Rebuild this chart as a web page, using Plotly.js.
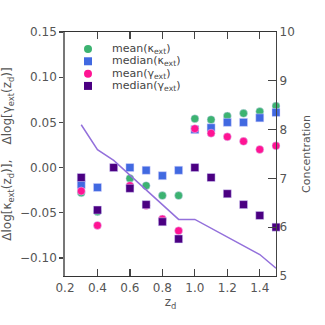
<!DOCTYPE html>
<html>
<head>
<meta charset="utf-8">
<script src="https://cdn.plot.ly/plotly-3.0.1.min.js"></script>
<style>
  html, body { margin: 0; padding: 0; background: #fff; }
  #chart { width: 325px; height: 325px; }
</style>
</head>
<body>
<div id="chart"></div>
<script>
// redshift bins of the deflector
var zd = [0.3, 0.4, 0.5, 0.6, 0.7, 0.8, 0.9, 1.0, 1.1, 1.2, 1.3, 1.4, 1.5];

// offsets (null = not visible)
var meanKappa   = [-0.028, -0.049, null, -0.012, -0.020, -0.031, -0.031, 0.054, 0.053, 0.057, 0.060, 0.062, 0.068];
var medianKappa = [-0.019, -0.022, null,  0.000, -0.003, -0.009, -0.003, 0.042, 0.044, 0.050, 0.050, 0.055, 0.061];
var meanGamma   = [-0.026, -0.064, null, -0.020, -0.042, -0.057, -0.070, 0.043, 0.038, 0.034, 0.029, 0.020, 0.024];
var medianGamma = [-0.011, -0.047, 0.000, -0.023, -0.041, -0.060, -0.079, 0.000, -0.011, -0.029, -0.041, -0.053, -0.066];

// concentration (right axis)
var concentration = [8.10, 7.59, 7.37, 7.07, 6.75, 6.45, 6.16, 6.16, 5.98, 5.80, 5.62, 5.44, 5.16];

var legendLabels = ['mean(κ<sub>ext</sub>)', 'median(κ<sub>ext</sub>)', 'mean(γ<sub>ext</sub>)', 'median(γ<sub>ext</sub>)'];
var colors = ['#3cb371', '#4169e1', '#ff1493', '#4b0082'];
var symbols = ['circle', 'square', 'circle', 'square'];
var series = [meanKappa, medianKappa, meanGamma, medianGamma];

var font = 'DejaVu Sans, sans-serif';
var edge = {color: 'rgba(220,215,255,0.6)', width: 0.8};

var traces = series.map(function (s, i) {
    return {
        x: zd, y: s,
        mode: 'markers', type: 'scatter',
        marker: {color: colors[i], symbol: symbols[i], size: 8, line: edge},
        showlegend: false, cliponaxis: false
    };
});

traces.push({
    x: zd, y: concentration, yaxis: 'y2',
    mode: 'lines', type: 'scatter',
    line: {color: '#9370db', width: 1.5},
    showlegend: false
});

// hand-made legend, tighter than Plotly's own
var legY = [0.930, 0.880, 0.829, 0.779];
var shapes = [];
var annotations = [];
legendLabels.forEach(function (lab, i) {
    shapes.push({
        type: symbols[i] === 'circle' ? 'circle' : 'rect',
        xref: 'paper', yref: 'paper',
        xsizemode: 'pixel', ysizemode: 'pixel',
        xanchor: 0.109, yanchor: legY[i],
        x0: -4, x1: 4, y0: -4, y1: 4,
        fillcolor: colors[i], line: {width: 0}
    });
    annotations.push({
        xref: 'paper', yref: 'paper',
        x: 0.218, y: legY[i], xanchor: 'left', yanchor: 'middle',
        text: lab, showarrow: false, height: 12, borderpad: 0,
        font: {family: font, size: 11, color: '#444'}
    });
});

var layout = {
    width: 325, height: 325,
    margin: {l: 65, r: 49, t: 32, b: 49},
    paper_bgcolor: '#fff', plot_bgcolor: '#fff',
    font: {family: font, size: 12, color: '#555'},
    xaxis: {
        range: [0.2, 1.5], dtick: 0.2, tick0: 0.2, tickformat: '.1f',
        showgrid: false, zeroline: false,
        showline: true, linecolor: '#333', linewidth: 1.2, mirror: 'ticks',
        ticks: 'inside', ticklen: 7, tickcolor: '#444', tickwidth: 1.2,
        title: {text: 'z<sub>d</sub>', font: {size: 12, color: '#555'}, standoff: 4}
    },
    yaxis: {
        range: [-0.12, 0.15], dtick: 0.05, tickformat: '.2f',
        showgrid: false, zeroline: false,
        showline: true, linecolor: '#777', linewidth: 1.8,
        ticks: 'outside', ticklen: 4, tickcolor: '#444', tickwidth: 1.2,
        title: {
            text: 'Δlog[κ<sub>ext</sub>(z<sub>d</sub>)],&nbsp;&nbsp;&nbsp;&nbsp;Δlog[γ<sub>ext</sub>(z<sub>d</sub>)]',
            font: {size: 12, color: '#555'}, standoff: 10
        }
    },
    yaxis2: {
        overlaying: 'y', side: 'right',
        range: [5, 10], dtick: 1,
        showgrid: false, zeroline: false,
        showline: true, linecolor: '#444', linewidth: 1.2,
        ticks: 'inside', ticklen: 8, tickcolor: '#444', tickwidth: 1.2,
        title: {text: 'Concentration', font: {size: 11, color: '#555'}, standoff: 8}
    },
    shapes: shapes,
    annotations: annotations,
    showlegend: false
};

Plotly.newPlot('chart', traces, layout, {displayModeBar: false, staticPlot: true});
</script>
</body>
</html>
